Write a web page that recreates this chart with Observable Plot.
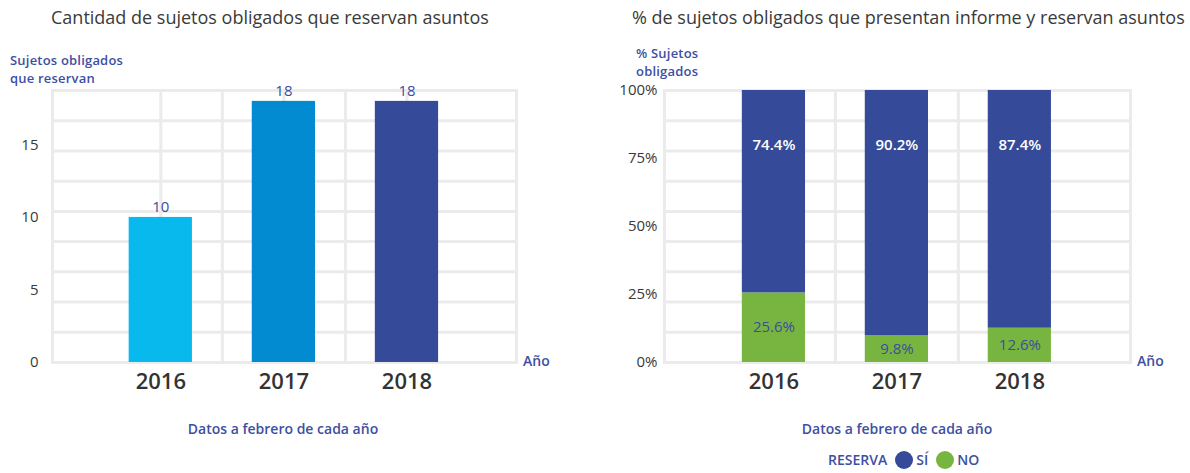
<!DOCTYPE html>
<html><head><meta charset="utf-8">
<script src="https://cdn.jsdelivr.net/npm/d3@7"></script>
<script src="https://cdn.jsdelivr.net/npm/@observablehq/plot@0.6"></script>
<style>
body{margin:0;background:#fff;font-family:"Open Sans",sans-serif;}
#wrap{position:relative;width:1190px;height:473px;overflow:hidden;}
.abs{position:absolute;white-space:nowrap;}
.title{font-size:18px;color:#3a3a3a;top:5px;line-height:24px;}
.lab{font-size:14px;font-weight:600;color:#3d4fa3;line-height:16px;}
.ylab{font-size:13px;font-weight:600;color:#3d4fa3;line-height:18px;letter-spacing:0.2px;}
.center{text-align:center;width:300px;}
.dot{display:inline-block;width:18px;height:18px;border-radius:50%;vertical-align:middle;margin:0 3px 0 8px;position:relative;top:-1px;}
</style></head><body><div id="wrap"></div>
<script>
// ---- data ----
const years = [2016, 2017, 2018];
const reservanCount = [10, 18, 18];
const reservaSeries = ["NO", "SÍ"];
const pctNo = [25.6, 9.8, 12.6];
const pctSi = [74.4, 90.2, 87.4];
const leftTicks = [0, 5, 10, 15];
const rightTicks = [0, 25, 50, 75, 100];
const titleLeft = "Cantidad de sujetos obligados que reservan asuntos";
const titleRight = "% de sujetos obligados que presentan informe y reservan asuntos";

// ---- styles ----
const yearColors = ["#08b9ee", "#028bd1", "#354a98"];
const seriesColors = ["#78b540", "#354a98"];
const gridColor = "#ebebeb";
const labelBlue = "#3d4d9c";
const halfBar = 0.257;
const leftMax = 18.75;

const countData = years.map((year, i) => ({year, count: reservanCount[i]}));
const pctData = [];
years.forEach((year, i) => {
  pctData.push({year, reserva: reservaSeries[0], pct: pctNo[i]});
  pctData.push({year, reserva: reservaSeries[1], pct: pctSi[i]});
});
const vGrid = [2016, 2016.5, 2017, 2017.5, 2018];
const fmtPct = v => v.toFixed(1) + "%";

const wrap = document.getElementById("wrap");
function addDiv(cls, html, style) {
  const d = document.createElement("div");
  d.className = "abs " + cls;
  d.innerHTML = html;
  Object.assign(d.style, style);
  wrap.appendChild(d);
  return d;
}

const common = {
  height: 360, marginTop: 50, marginBottom: 38,
  style: {fontFamily: "Open Sans, sans-serif", background: "transparent", overflow: "visible"}
};

const left = Plot.plot({
  ...common,
  width: 530, marginLeft: 52, marginRight: 14,
  x: {type: "linear", domain: [2015.12, 2018.89]},
  y: {domain: [0, leftMax]},
  color: {type: "ordinal", domain: years, range: yearColors},
  marks: [
    Plot.ruleY(d3.range(10).map(i => i * leftMax / 9), {stroke: gridColor, strokeWidth: 3}),
    Plot.ruleX(vGrid, {stroke: gridColor, strokeWidth: 3}),
    Plot.frame({stroke: gridColor, strokeWidth: 3}),
    Plot.rectY(countData, {x1: d => d.year - halfBar, x2: d => d.year + halfBar, y: "count", fill: "year"}),
    Plot.text(countData, {x: "year", y: "count", text: d => String(d.count), dy: -10, fill: labelBlue, fontSize: 15, fontWeight: 500}),
    Plot.axisX(years, {tickSize: 0, tickPadding: 11, fontSize: 22, fontWeight: 600, color: "#333", tickFormat: d => String(d), label: null}),
    Plot.axisY(leftTicks, {tickSize: 0, tickPadding: 14, fontSize: 15, color: "#3a3a3a", label: null})
  ]
});

const right = Plot.plot({
  ...common,
  width: 545, marginLeft: 64, marginRight: 15,
  x: {type: "linear", domain: [2015.11, 2018.9]},
  y: {domain: [0, 100]},
  color: {domain: reservaSeries, range: seriesColors},
  marks: [
    Plot.ruleY(d3.range(10).map(i => i * 100 / 9), {stroke: gridColor, strokeWidth: 3}),
    Plot.ruleX(vGrid, {stroke: gridColor, strokeWidth: 3}),
    Plot.frame({stroke: gridColor, strokeWidth: 3}),
    Plot.rectY(pctData, {x1: d => d.year - halfBar, x2: d => d.year + halfBar, y: "pct", fill: "reserva"}),
    Plot.text(pctData, Plot.stackY2({x: "year", y: "pct", text: d => d.reserva === "SÍ" ? fmtPct(d.pct) : "", fill: "white", dy: 55, fontSize: 15, fontWeight: 600})),
    Plot.text(pctData, Plot.stackY({x: "year", y: "pct", text: d => d.reserva === "NO" ? fmtPct(d.pct) : "", fill: labelBlue, fontSize: 15, fontWeight: 500})),
    Plot.axisX(years, {tickSize: 0, tickPadding: 11, fontSize: 22, fontWeight: 600, color: "#333", tickFormat: d => String(d), label: null}),
    Plot.axisY(rightTicks, {tickSize: 0, tickPadding: 7, fontSize: 15, color: "#3a3a3a", tickFormat: d => d + "%", label: null})
  ]
});

const lw = document.createElement("div");
lw.className = "abs"; lw.style.left = "0px"; lw.style.top = "40px";
lw.appendChild(left); wrap.appendChild(lw);
const rw = document.createElement("div");
rw.className = "abs"; rw.style.left = "600px"; rw.style.top = "40px";
rw.appendChild(right); wrap.appendChild(rw);

addDiv("title", titleLeft, {left: "51px"});
addDiv("title", titleRight, {left: "632px"});
addDiv("ylab", "Sujetos obligados", {left: "10px", top: "51px"});
addDiv("ylab", "que reservan", {left: "10px", top: "69px"});
addDiv("ylab", "% Sujetos", {left: "636px", top: "44px"});
addDiv("ylab", "obligados", {left: "636px", top: "62px"});
addDiv("lab", "Año", {left: "523px", top: "353px"});
addDiv("lab", "Año", {left: "1137px", top: "353px"});
addDiv("lab center", "Datos a febrero de cada año", {left: "133px", top: "421px"});
addDiv("lab center", "Datos a febrero de cada año", {left: "747px", top: "421px"});
addDiv("lab", "RESERVA<span class='dot' style='background:" + seriesColors[1] + "'></span>SÍ<span class='dot' style='background:" + seriesColors[0] + "'></span>NO", {left: "828px", top: "452px"});
</script></body></html>
